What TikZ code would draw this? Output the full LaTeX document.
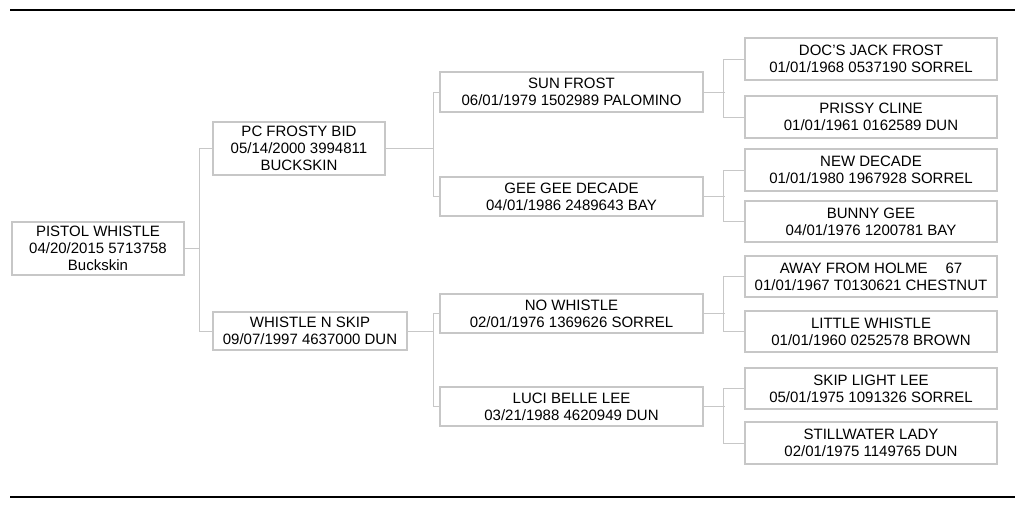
\documentclass[tikz,border=0pt]{standalone}
\usepackage{fontspec}
\setmainfont{Liberation Sans}
\begin{document}
\begin{tikzpicture}[x=1pt,y=-1pt,
  hb/.style={draw=black!22,line width=1.5pt,align=center,inner sep=0pt,font=\fontsize{15}{17}\selectfont},
  ln/.style={draw=black!22,line width=0.8pt}]
\useasboundingbox (0,0) rectangle (1024,505);
\draw[line width=1.2pt] (10,10) -- (1015,10);
\draw[line width=1.2pt] (10,497) -- (1015,497);
\newcommand{\horsebox}[6]{\node[hb,minimum width={#4-#2},minimum height={#5-#3}] (#1) at ({(#2+#4)/2},{(#3+#5)/2}) {#6};}
\horsebox{p}{12}{222}{184}{275}{PISTOL WHISTLE\\04/20/2015 5713758\\Buckskin}
\horsebox{a}{213}{122}{385}{175}{PC FROSTY BID\\05/14/2000 3994811\\BUCKSKIN}
\horsebox{b}{213}{312}{407}{350}{WHISTLE N SKIP\\09/07/1997 4637000 DUN}
\horsebox{aa}{440}{72}{703}{112}{SUN FROST\\06/01/1979 1502989 PALOMINO}
\horsebox{ab}{440}{177}{703}{216}{GEE GEE DECADE\\04/01/1986 2489643 BAY}
\horsebox{ba}{440}{294}{703}{333}{NO WHISTLE\\02/01/1976 1369626 SORREL}
\horsebox{bb}{440}{387}{703}{426}{LUCI BELLE LEE\\03/21/1988 4620949 DUN}
\horsebox{c1}{745}{38}{997}{80}{DOC'S JACK FROST\\01/01/1968 0537190 SORREL}
\horsebox{c2}{745}{96}{997}{138}{PRISSY CLINE\\01/01/1961 0162589 DUN}
\horsebox{c3}{745}{149}{997}{191}{NEW DECADE\\01/01/1980 1967928 SORREL}
\horsebox{c4}{745}{201}{997}{242}{BUNNY GEE\\04/01/1976 1200781 BAY}
\horsebox{c5}{745}{256}{997}{297}{AWAY FROM HOLME\hspace{1.2em}67\\01/01/1967 T0130621 CHESTNUT}
\horsebox{c6}{745}{311}{997}{352}{LITTLE WHISTLE\\01/01/1960 0252578 BROWN}
\horsebox{c7}{745}{368}{997}{409}{SKIP LIGHT LEE\\05/01/1975 1091326 SORREL}
\horsebox{c8}{745}{422}{997}{464}{STILLWATER LADY\\02/01/1975 1149765 DUN}
\draw[ln] (p.east) -- (199,248.5);
\draw[ln] (a.west) -- (199,148.5) -- (199,331) -- (b.west);
\draw[ln] (a.east) -- (433,148.5);
\draw[ln] (aa.west) -- (433,92) -- (433,196.5) -- (ab.west);
\draw[ln] (b.east) -- (433,331);
\draw[ln] (ba.west) -- (433,313.5) -- (433,406.5) -- (bb.west);
\foreach \pp/\u/\v in {aa/c1/c2,ab/c3/c4,ba/c5/c6,bb/c7/c8}{
  \draw[ln] (\pp.east) -- ++(21,0);
  \draw[ln] (\u.west) -- ++(-21,0) |- (\v.west);
}
\end{tikzpicture}
\end{document}
